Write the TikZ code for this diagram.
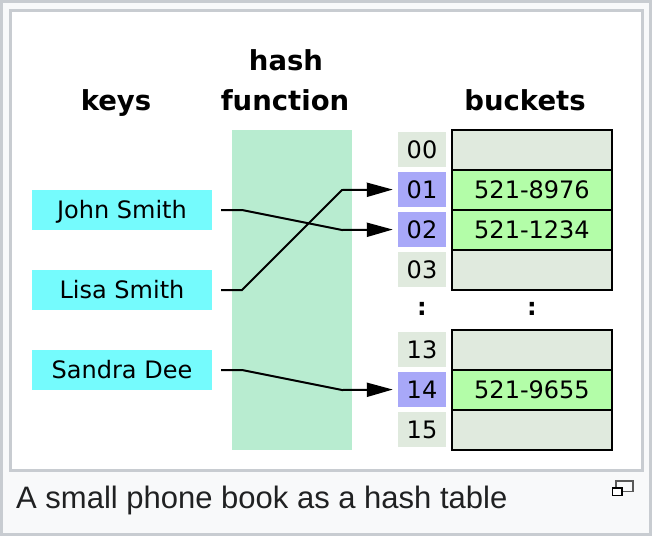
\documentclass[tikz,border=0pt]{standalone}
\usepackage{fontspec}
\setmainfont{DejaVu Sans}
\newfontfamily\capfont{Liberation Sans}
\usetikzlibrary{arrows.meta}
\definecolor{frameline}{HTML}{C8CCD1}
\definecolor{framebg}{HTML}{F8F9FA}
\definecolor{keycol}{RGB}{117,251,253}
\definecolor{hashcol}{RGB}{184,236,208}
\definecolor{idxcol}{RGB}{224,234,222}
\definecolor{idxhi}{RGB}{168,168,248}
\definecolor{buckhi}{RGB}{179,253,168}
\definecolor{captext}{HTML}{202122}
\tikzset{
  keybox/.style={fill=keycol, minimum width=180pt, minimum height=40pt, inner sep=0pt,
     text height=17.5pt, text depth=0pt, font=\fontsize{24}{28}\selectfont},
  idxbox/.style={fill=idxcol, minimum width=48pt, minimum height=35pt, inner sep=0pt,
     text height=17.5pt, text depth=0pt, font=\fontsize{24}{28}\selectfont},
  idxhot/.style={idxbox, fill=idxhi},
  buckbox/.style={draw=black, line width=2pt, fill=idxcol, minimum width=160pt, minimum height=40pt,
     inner sep=0pt, text height=17.5pt, text depth=0pt, font=\fontsize{24}{28}\selectfont},
  buckhot/.style={buckbox, fill=buckhi},
  header/.style={anchor=base, inner sep=0pt, font=\fontsize{27.5}{30}\selectfont\bfseries},
  link/.style={line width=2pt, -{Triangle[length=26pt,width=14pt]}, shorten >=5pt},
}
\begin{document}
\begin{tikzpicture}[x=1pt,y=-1pt]
\useasboundingbox (0,0) rectangle (652,536);
% frames
\draw[frameline, fill=framebg, line width=2.5pt] (1.5,1.5) rectangle (650.5,534.5);
\draw[frameline, fill=white, line width=2.5pt] (10.5,10.5) rectangle (642.5,470.5);
% headers
\node[header] (hkeys) at (116,110) {keys};
\node[header] (hhash) at (286,70) {hash};
\node[header] (hfunc) at (285,110) {function};
\node[header] (hbuck) at (525,110) {buckets};
% hash function
\node[fill=hashcol, minimum width=120pt, minimum height=320pt, inner sep=0pt] (hf) at (292,290) {};
% keys
\node[keybox] (john) at (122,210) {John Smith};
\node[keybox] (lisa) at (122,290) {Lisa Smith};
\node[keybox] (sandra) at (122,370) {Sandra Dee};
% indices
\node[idxbox] (i00) at (422,149.5) {00};
\node[idxhot] (i01) at (422,189.5) {01};
\node[idxhot] (i02) at (422,229.5) {02};
\node[idxbox] (i03) at (422,269.5) {03};
\node[idxbox] (i13) at (422,349.5) {13};
\node[idxhot] (i14) at (422,389.5) {14};
\node[idxbox] (i15) at (422,429.5) {15};
% buckets
\node[buckbox] (b00) at (532,150) {};
\node[buckhot] (b01) at (532,190) {521-8976};
\node[buckhot] (b02) at (532,230) {521-1234};
\node[buckbox] (b03) at (532,270) {};
\node[buckbox] (b13) at (532,350) {};
\node[buckhot] (b14) at (532,390) {521-9655};
\node[buckbox] (b15) at (532,430) {};
% dots
\node[font=\fontsize{24}{28}\selectfont\bfseries, inner sep=0pt] (d1) at (422,309) {:};
\node[font=\fontsize{24}{28}\selectfont\bfseries, inner sep=0pt] (d2) at (532,309) {:};
% connectors
\coordinate (j0) at (221,210); \coordinate (j1) at (242,210); \coordinate (j2) at (342,230);
\coordinate (l0) at (221,290); \coordinate (l1) at (242,290); \coordinate (l2) at (342,190);
\coordinate (s0) at (221,370); \coordinate (s1) at (242,370); \coordinate (s2) at (342,390);
\draw[link] (j0) -- (j1) -- (j2) -- (i02.west);
\draw[link] (l0) -- (l1) -- (l2) -- (i01.west);
\draw[link] (s0) -- (s1) -- (s2) -- (i14.west);
% caption
\node[anchor=base west, inner sep=0pt, text=captext, font=\capfont\fontsize{31}{34}\selectfont] (cap) at (16,508) {A small phone book as a hash table};
% enlarge icon
\draw[draw=gray!70!black, fill=framebg, line width=1.2pt] (616,481) rectangle (633,491.5);
\draw[draw=black, fill=white, line width=1.2pt] (612.5,488) rectangle (622,495.5);
\end{tikzpicture}
\end{document}
